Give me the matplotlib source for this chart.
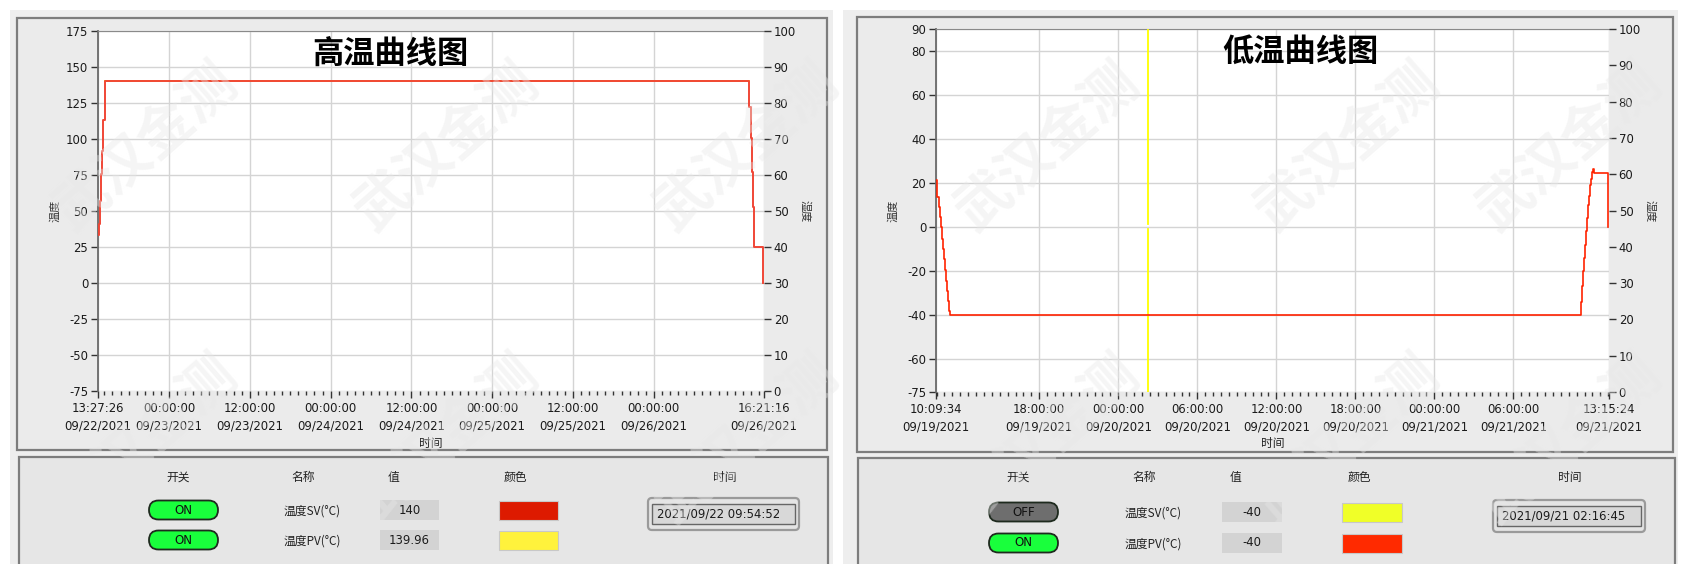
import numpy as np
import pandas as pd
import matplotlib
matplotlib.use('Agg')
import matplotlib.pyplot as plt
import matplotlib.dates as mdates
from matplotlib.patches import Rectangle, FancyBboxPatch

plt.rcParams['font.family'] = ['DejaVu Sans', 'Noto Sans CJK SC']
plt.rcParams['axes.unicode_minus'] = False
CJK = ['Noto Sans CJK SC', 'DejaVu Sans']

W, H = 1688, 564

# ---- high temperature chart data ----
hi_title = '高温曲线图'
hi_red_time = ['2021-09-22 13:27:26', '2021-09-22 13:33', '2021-09-22 13:43', '2021-09-22 13:54',
               '2021-09-22 14:03', '2021-09-22 14:12', '2021-09-22 14:27', '2021-09-26 14:10',
               '2021-09-26 14:25', '2021-09-26 14:37', '2021-09-26 14:45', '2021-09-26 14:55',
               '2021-09-26 16:12']
hi_red_val = [33, 41, 57, 76, 92, 113, 140, 122, 101, 77, 53, 25, 0]
hi_yel_time = ['2021-09-22 14:27', '2021-09-26 14:10']
hi_yel_val = [140, 140]
hi_xticks = ['2021-09-22 13:27:26', '2021-09-23 00:00', '2021-09-23 12:00', '2021-09-24 00:00',
             '2021-09-24 12:00', '2021-09-25 00:00', '2021-09-25 12:00', '2021-09-26 00:00',
             '2021-09-26 16:21:16']
hi_xlabels = ['13:27:26\n09/22/2021', '00:00:00\n09/23/2021', '12:00:00\n09/23/2021',
              '00:00:00\n09/24/2021', '12:00:00\n09/24/2021', '00:00:00\n09/25/2021',
              '12:00:00\n09/25/2021', '00:00:00\n09/26/2021', '16:21:16\n09/26/2021']
hi_yticks = [-75, -50, -25, 0, 25, 50, 75, 100, 125, 150, 175]
hi_switch = ['ON', 'ON']
hi_names = ['温度SV(°C)', '温度PV(°C)']
hi_values = ['140', '139.96']
hi_colors = ['#dd1a00', '#fff23c']
hi_time = '2021/09/22 09:54:52'

# ---- low temperature chart data ----
lo_title = '低温曲线图'
lo_red_time = ['2021-09-19 10:09:34', '2021-09-19 10:16', '2021-09-19 10:22', '2021-09-19 10:26',
               '2021-09-19 10:31', '2021-09-19 10:35', '2021-09-19 10:40', '2021-09-19 10:45',
               '2021-09-19 10:50', '2021-09-19 10:55', '2021-09-19 11:00', '2021-09-19 11:04',
               '2021-09-19 11:09', '2021-09-19 11:13',
               '2021-09-21 11:08', '2021-09-21 11:13', '2021-09-21 11:17', '2021-09-21 11:22',
               '2021-09-21 11:26', '2021-09-21 11:32', '2021-09-21 11:37', '2021-09-21 11:41',
               '2021-09-21 11:46', '2021-09-21 11:50', '2021-09-21 11:55', '2021-09-21 12:00',
               '2021-09-21 12:04', '2021-09-21 12:09', '2021-09-21 13:12']
lo_red_val = [21.5, 13.5, 9, 4.5, 0, -5.5, -10, -14.5, -19.5, -24.5, -29, -33.5, -38, -40,
              -34, -27, -20, -14, -8, -2, 4, 10, 14, 19, 22, 25, 26.5, 24.5, 0]
lo_yel_time = ['2021-09-20 02:16:45'] * 5
lo_yel_val = [100, 1.5, np.nan, -1, -80]
lo_xticks = ['2021-09-19 10:09:34', '2021-09-19 18:00', '2021-09-20 00:00', '2021-09-20 06:00',
             '2021-09-20 12:00', '2021-09-20 18:00', '2021-09-21 00:00', '2021-09-21 06:00',
             '2021-09-21 13:15:24']
lo_xlabels = ['10:09:34\n09/19/2021', '18:00:00\n09/19/2021', '00:00:00\n09/20/2021',
              '06:00:00\n09/20/2021', '12:00:00\n09/20/2021', '18:00:00\n09/20/2021',
              '00:00:00\n09/21/2021', '06:00:00\n09/21/2021', '13:15:24\n09/21/2021']
lo_yticks = [-75, -60, -40, -20, 0, 20, 40, 60, 80, 90]
lo_switch = ['OFF', 'ON']
lo_names = ['温度SV(°C)', '温度PV(°C)']
lo_values = ['-40', '-40']
lo_colors = ['#f0ff28', '#ff2a00']
lo_time = '2021/09/21 02:16:45'

rh_ticks = [0, 10, 20, 30, 40, 50, 60, 70, 80, 90, 100]


def num(t):
    return mdates.date2num(pd.to_datetime(t, format='mixed').to_pydatetime())


fig = plt.figure(figsize=(W / 100, H / 100), dpi=100, facecolor='white')
bg = fig.add_axes([0, 0, 1, 1], zorder=-5)
bg.set_xlim(0, W)
bg.set_ylim(H, 0)
bg.axis('off')

# panel backgrounds and frames
for x0, x1 in [(10, 833), (843, 1678)]:
    bg.add_patch(Rectangle((x0, 10), x1 - x0, 600, fc='#eeeeee', ec='none'))
bg.add_patch(Rectangle((17, 18), 810, 432, fc='#ebebeb', ec='#7d7d7d', lw=1.6))
bg.add_patch(Rectangle((19, 457), 809, 130, fc='#e6e6e6', ec='#7d7d7d', lw=1.6))
bg.add_patch(Rectangle((857, 17), 816, 435, fc='#ebebeb', ec='#7d7d7d', lw=1.6))
bg.add_patch(Rectangle((858, 458), 817, 130, fc='#e6e6e6', ec='#7d7d7d', lw=1.6))


def draw_chart(box, xt, xl, minor_start, minor_freq, yt, series, title, title_xy):
    x0, y0, x1, y1 = box
    ax = fig.add_axes([x0 / W, 1 - y1 / H, (x1 - x0) / W, (y1 - y0) / H])
    ax.set_facecolor('white')
    xn = num(xt)
    ax.set_xlim(xn[0], xn[-1])
    ax.set_ylim(yt[0], yt[-1])
    ax.set_xticks(xn, xl)
    mn = mdates.date2num(pd.date_range(minor_start, pd.to_datetime(xt[-1]), freq=minor_freq).to_pydatetime())
    ax.set_xticks(mn[mn >= xn[0]], minor=True)
    ax.set_yticks(yt)
    ax.grid(True, which='major', color='#d4d4d4', lw=1)
    ax.set_axisbelow(True)
    for tm, val, col, lw in series:
        ax.plot(num(tm), val, color=col, lw=lw, drawstyle='steps-post', zorder=3)
    ax.tick_params(axis='x', which='major', length=5, width=1, color='#333333',
                   labelsize=8.4, pad=3, labelcolor='#1a1a1a')
    ax.tick_params(axis='x', which='minor', length=3, width=1, color='#333333')
    ax.tick_params(axis='y', length=5, width=1, color='#333333', labelsize=8.4, pad=2,
                   labelcolor='#1a1a1a')
    for lbl in ax.get_xticklabels():
        lbl.set_linespacing(1.45)
    ax.spines['left'].set_color('#6a6a6a')
    ax.spines['left'].set_linewidth(1.3)
    ax.spines['top'].set_color('#8a8a8a')
    ax.spines['right'].set_visible(False)
    ax.spines['bottom'].set_visible(False)

    ax2 = ax.twinx()
    ax2.set_ylim(0, 100)
    ax2.set_yticks(rh_ticks)
    ax2.tick_params(axis='y', length=5, width=1, color='#333333', labelsize=8.4, pad=2,
                    labelcolor='#1a1a1a')
    for s in ax2.spines.values():
        s.set_visible(False)

    fig.text((x0 - 43) / W, 1 - 211 / H, '温度', rotation=90, ha='center', va='center',
             fontsize=8, family=CJK, color='#333333')
    fig.text((x1 + 41) / W, 1 - 211 / H, '湿度', rotation=-90, ha='center', va='center',
             fontsize=8, family=CJK, color='#333333')
    fig.text((x0 + x1) / 2 / W, 1 - 443 / H, '时间', ha='center', va='center',
             fontsize=8.5, family=CJK, color='#222222')
    fig.text(title_xy[0] / W, 1 - title_xy[1] / H, title, ha='center', va='center',
             fontsize=22.5, fontweight='black', family=CJK, color='black')


def draw_table(hx, row_y, btn_x, name_x, val_x, col_x, tbox, switch, names, values, colors, ttext):
    for txt, x in zip(['开关', '名称', '值', '颜色', '时间'], hx):
        bg.text(x, 477, txt, ha='center', va='center', fontsize=8.5, family=CJK, color='#222222')
    for i, y in enumerate(row_y):
        on = switch[i] == 'ON'
        bg.add_patch(FancyBboxPatch((btn_x[0], y - 9.5), btn_x[1] - btn_x[0], 19,
                                    boxstyle='round,pad=0,rounding_size=9.5',
                                    fc='#19ff3c' if on else '#6e6e6e', ec='#1e2a1e', lw=1.3))
        bg.text((btn_x[0] + btn_x[1]) / 2, y, switch[i], ha='center', va='center',
                fontsize=8.6, color='#111111')
        bg.text(name_x, y + 1, names[i], ha='center', va='center', fontsize=8.5, family=CJK,
                color='#222222')
        bg.add_patch(Rectangle((val_x[0], y - 10), val_x[1] - val_x[0], 20, fc='#d3d3d3', ec='none'))
        bg.text((val_x[0] + val_x[1]) / 2, y, values[i], ha='center', va='center',
                fontsize=8.4, color='#1a1a1a')
        bg.add_patch(Rectangle((col_x[0], y - 9.5), col_x[1] - col_x[0], 19, fc=colors[i],
                               ec='#c8c8c8', lw=0.8))
    tx0, ty0, tx1, ty1 = tbox
    bg.add_patch(FancyBboxPatch((tx0, ty0), tx1 - tx0, ty1 - ty0,
                                boxstyle='round,pad=0,rounding_size=4',
                                fc='#e4e4e4', ec='#9a9a9a', lw=1.6))
    bg.add_patch(Rectangle((tx0 + 4, ty0 + 6), tx1 - tx0 - 8, ty1 - ty0 - 12,
                           fc='#d8d8d8', ec='#666666', lw=1))
    bg.text(tx0 + 9, (ty0 + ty1) / 2, ttext, ha='left', va='center', fontsize=8.4, color='#1a1a1a')


draw_chart((98, 31, 764, 391), hi_xticks, hi_xlabels, '2021-09-22 12:00', '72min', hi_yticks,
           [(hi_yel_time, hi_yel_val, '#ffff00', 1.4),
            (hi_red_time, hi_red_val, '#f04636', 1.4)],
           hi_title, (390, 54))
draw_chart((936, 29, 1609, 392), lo_xticks, lo_xlabels, '2021-09-19 06:00', '36min', lo_yticks,
           [(lo_yel_time, lo_yel_val, '#ffff00', 1.3),
            (lo_red_time, lo_red_val, '#ff2200', 1.2)],
           lo_title, (1300, 52))

draw_table([178, 303, 393, 515, 725], [510, 540], (149, 218), 312, (380, 439), (499, 558),
           (648, 498, 799, 530), hi_switch, hi_names, hi_values, hi_colors, hi_time)
draw_table([1018, 1144, 1235, 1359, 1570], [512, 543], (989, 1058), 1153, (1222, 1282),
           (1342, 1402), (1493, 500, 1645, 532), lo_switch, lo_names, lo_values, lo_colors, lo_time)

# faint watermark
for wx in [146, 447, 747, 1048, 1348, 1570]:
    for wy in [148, 440]:
        fig.text(wx / W, 1 - wy / H, '武汉金测', rotation=41, ha='center', va='center',
                 fontsize=40, fontweight='bold', family=CJK, color='#e8e8e8', alpha=0.4,
                 zorder=10)

fig.savefig('out.png', dpi=100, facecolor='white')
